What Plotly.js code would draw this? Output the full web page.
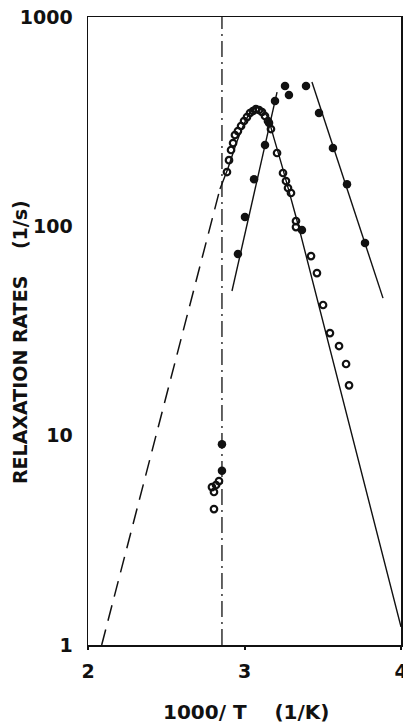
<!DOCTYPE html>
<html>
<head>
<meta charset="utf-8">
<script src="https://cdn.plot.ly/plotly-3.0.1.min.js"></script>
<style>html,body{margin:0;padding:0;background:#fff;}#chart{width:403px;height:725px;}</style>
</head>
<body>
<div id="chart"></div>
<script>
// Filled circles
const filledX = [2.856, 2.856, 2.958, 3.003, 3.061, 3.131, 3.157, 3.195, 3.259, 3.284, 3.393, 3.367, 3.476, 3.565, 3.655, 3.770];
const filledY = [9.1, 6.8, 73.8, 110.8, 168, 244.6, 311.6, 397, 468, 424, 468, 96, 348, 237, 159, 83.2];

// Open circles
const openX = [2.792, 2.805, 2.818, 2.837, 2.805,
  2.888, 2.901, 2.914, 2.927, 2.939, 2.958, 2.978, 2.997, 3.016, 3.035, 3.054, 3.073, 3.093, 3.112, 3.131, 3.150, 3.169,
  3.208, 3.246, 3.265, 3.278, 3.297, 3.329, 3.329, 3.425, 3.463, 3.502, 3.546, 3.604, 3.649, 3.668];
const openY = [5.68, 5.38, 5.81, 6.07, 4.46,
  181.7, 207, 231.5, 250, 273, 285, 301.5, 318.5, 332.7, 347.8, 355.5, 363.4, 359.5, 351.7, 336.5, 318.5, 291.6,
  224, 179.8, 164.6, 152.4, 144.3, 106, 99.2, 72.1, 59.8, 42.1, 30.9, 26.8, 22.0, 17.4];

// Fit curve through open circles (solid part)
const openFitX = [2.843, 2.895, 2.946, 2.997, 3.035, 3.073, 3.112, 3.150, 3.188, 3.240, 3.291, 3.355, 4.0];
const openFitY = [150.6, 190, 247, 308, 347.8, 369.5, 363.4, 329, 264, 194, 141, 93.9, 1.22];

// Dashed extrapolation of the open-circle fit
const dashX = [2.0875, 2.843];
const dashY = [1.0, 150.6];

// Fit lines through filled circles
const riseX = [2.920, 3.208];
const riseY = [49.1, 438];
const fallX = [3.431, 3.885];
const fallY = [489, 45.4];

// Vertical dash-dot marker
const vlineX = [2.856, 2.856];
const vlineY = [1, 1000];

const xTicks = [2, 3, 4];
const yTicks = [1, 10, 100, 1000];
const yTickText = ['1', '10', '100', '1000'];

const ink = '#111';
const lineW = 1.4;

const traces = [
  {x: vlineX, y: vlineY, mode: 'lines', line: {color: ink, width: 1.3, dash: '16px,5px,2px,5px'}, hoverinfo: 'skip'},
  {x: dashX, y: dashY, mode: 'lines', line: {color: ink, width: 1.5, dash: '16px,9px'}, hoverinfo: 'skip'},
  {x: openFitX, y: openFitY, mode: 'lines', line: {color: ink, width: lineW, shape: 'spline', smoothing: 0.5}, hoverinfo: 'skip'},
  {x: riseX, y: riseY, mode: 'lines', line: {color: ink, width: lineW}, hoverinfo: 'skip'},
  {x: fallX, y: fallY, mode: 'lines', line: {color: ink, width: lineW}, hoverinfo: 'skip'},
  {x: openX, y: openY, mode: 'markers', marker: {symbol: 'circle-open', size: 6.5, color: ink, line: {color: ink, width: 2.2}}},
  {x: filledX, y: filledY, mode: 'markers', marker: {symbol: 'circle', size: 8.5, color: ink}}
];

const tickFont = {family: 'DejaVu Sans', size: 19, color: ink, weight: 'bold'};

const layout = {
  width: 403, height: 725,
  margin: {l: 88, r: 2, t: 17, b: 80, pad: 0},
  paper_bgcolor: '#fff', plot_bgcolor: '#fff',
  showlegend: false,
  xaxis: {
    range: [2, 4], tickvals: xTicks, ticktext: xTicks.map(String),
    showline: true, mirror: true, linecolor: ink, linewidth: 1.5,
    showgrid: false, zeroline: false, ticks: 'outside', ticklen: 3, tickwidth: 2, tickcolor: ink,
    tickfont: tickFont, ticklabelstandoff: 6, ticklabeloverflow: 'allow', automargin: false, fixedrange: true
  },
  yaxis: {
    type: 'log', range: [0, 3], tickvals: yTicks, ticktext: yTickText,
    showline: true, mirror: true, linecolor: ink, linewidth: 1.5,
    showgrid: false, zeroline: false, ticks: '', tickfont: tickFont,
    ticklabelstandoff: 10, ticklabeloverflow: 'allow', automargin: false, fixedrange: true
  },
  annotations: [
    {text: '1000/ T    (1/K)', xref: 'paper', yref: 'paper', x: 0.505, y: -0.107,
     xanchor: 'center', yanchor: 'middle', showarrow: false,
     font: {family: 'DejaVu Sans', size: 20, color: ink, weight: 'bold'}},
    {text: 'RELAXATION RATES    (1/s)', xref: 'paper', yref: 'paper', x: -0.215, y: 0.482,
     xanchor: 'center', yanchor: 'middle', showarrow: false, textangle: -90,
     font: {family: 'DejaVu Sans', size: 19, color: ink, weight: 'bold'}}
  ]
};

Plotly.newPlot('chart', traces, layout, {staticPlot: true, displayModeBar: false});
</script>
</body>
</html>
